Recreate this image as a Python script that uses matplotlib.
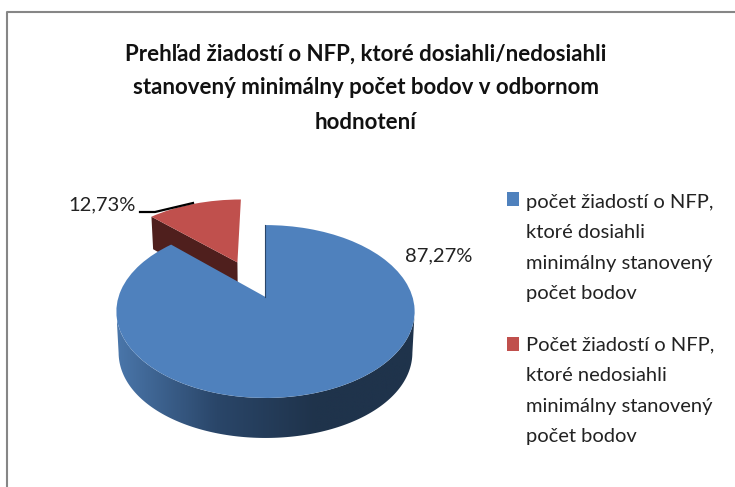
import numpy as np
import matplotlib
matplotlib.use('Agg')
import matplotlib.pyplot as plt
from matplotlib.colors import LinearSegmentedColormap
from matplotlib.patches import Rectangle
from matplotlib.transforms import Affine2D, Transform

#=====data=====
title = ('Prehľad žiadostí o NFP, ktoré dosiahli/nedosiahli\n'
         'stanovený minimálny počet bodov v odbornom\n'
         'hodnotení')
labels = ['počet žiadostí o NFP,\nktoré dosiahli\nminimálny stanovený\npočet bodov',
          'Počet žiadostí o NFP,\nktoré nedosiahli\nminimálny stanovený\npočet bodov']
values = [87.27, 12.73]
explode = [0, 0.48]
colors = ['#4F81BD', '#C0504D']

plt.rcParams['font.family'] = ['Lato', 'DejaVu Sans']

#pie is flat, this tips it over so it looks like the 3d one
CX, CY = 265.5, 297
K = 0.168
AX, AY = 147, 84
RED_SHIFT = -2.5


def project(x, y, z=0):
    d = 1 + K * y
    shrink = 1 - 0.015 * z
    depth = z * (40 - 3.5 * (y + 1) + 4 * (1 - y * y) * (y < 0))
    return CX + shrink * AX * x / d, CY - AY * y / d + depth


class Tilt(Transform):
    input_dims = 2
    output_dims = 2

    def transform_non_affine(self, values):
        values = np.asarray(values)
        return np.column_stack(project(values[:, 0], values[:, 1]))


fig = plt.figure(figsize=(7.35, 4.87), dpi=100)
ax = fig.add_axes([0, 0, 1, 1])

wedges, _ = ax.pie(values, explode=explode, colors=colors, startangle=90, counterclock=False)
ax.set_aspect('auto')
ax.axis('off')

tilt = Tilt() + ax.transData
wedges[0].set_transform(tilt)
wedges[0].set_zorder(4)
wedges[1].set_transform(Tilt() + Affine2D().translate(RED_SHIFT, 0) + ax.transData)
wedges[1].set_zorder(2)

#blue rim, shaded left to right, one gradient clipped to the rim outline
#arc runs between the widest points of the ellipse so the sides come out straight
rim = LinearSegmentedColormap.from_list('rim', ['#4A76AA', '#2A4669', '#1F334B', '#1F334B'])
th = np.radians(np.linspace(-170, -10, 161))
upper = [project(np.cos(a), np.sin(a)) for a in th]
lower = [project(np.cos(a), np.sin(a), 1) for a in th[::-1]]
outline = plt.Polygon(upper + lower, closed=True, transform=ax.transData)
grad = ax.imshow(np.linspace(0, 1, 256)[None, :], cmap=rim, aspect='auto', extent=(117, 415, 450, 280), zorder=3)
grad.set_clip_path(outline)

#red cut face, left edge of the exploded slice
ang = np.radians(90 - 360 * values[0] / 100 - 360 * values[1] / 200)
ox, oy = explode[1] * np.cos(ang), explode[1] * np.sin(ang)
edge = np.radians(90 - 360 * values[0] / 100)
ex, ey = ox + np.cos(edge), oy + np.sin(edge)
face = np.array([project(ox, oy), project(ex, ey), project(ex, ey, 1), project(ox, oy, 1)])
face[:, 0] += RED_SHIFT
ax.add_patch(plt.Polygon(face, closed=True, facecolor='#4F1F1D', edgecolor='none', zorder=1))

#thin dark edge in the notch
ax.plot([0, 0], [0, 1], color='#2A4669', lw=0.8, transform=tilt, zorder=5)

#frame
ax.plot([7, 7, 735], [487, 12, 12], color='#868686', lw=1.5, zorder=1)

ax.text(366, 88, title, ha='center', va='center', fontsize=16, fontweight='bold',
        linespacing=1.78, color='#111111')

#data labels
ax.text(136, 205, f'{values[1]:.2f}%'.replace('.', ','), ha='right', va='center', fontsize=14.5, color='#222222')
ax.text(405, 256, f'{values[0]:.2f}%'.replace('.', ','), ha='left', va='center', fontsize=14.5, color='#222222')
ax.plot([140, 155, 193], [212, 212, 203], color='black', lw=1.6, zorder=6)

#legend
for w, lab, sy, ty in zip(wedges, labels, [192, 337], [248, 391]):
    ax.add_patch(Rectangle((507, sy), 12, 14, facecolor=w.get_facecolor(), edgecolor='none'))
    ax.text(526, ty, lab, ha='left', va='center', fontsize=14.5, linespacing=1.97, color='#222222')

ax.set_xlim(0, 735)
ax.set_ylim(487, 0)

fig.savefig('out.png', dpi=100)
